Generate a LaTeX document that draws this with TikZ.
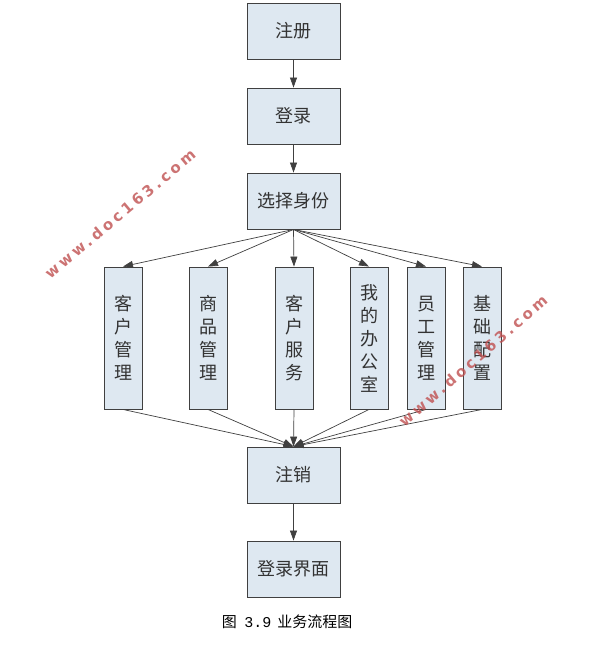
\documentclass[tikz,border=0pt]{standalone}
\usepackage{fontspec}
\setmainfont{Liberation Serif}
\newfontfamily\cjk{Noto Sans CJK SC}[BoldFont={Noto Sans CJK SC}]
\newfontfamily\wmfont{DejaVu Sans Bold}[LetterSpace=22]
\newfontfamily\capmono{Liberation Mono}
\usetikzlibrary{arrows.meta}
\definecolor{boxfill}{HTML}{DEE8F1}
\definecolor{lineclr}{HTML}{404040}
\definecolor{wmred}{HTML}{C05050}
\tikzset{
  hbox/.style={draw=lineclr, line width=0.9pt, fill=boxfill, minimum width=93pt, minimum height=56pt, inner sep=0pt, font=\cjk\fontsize{18}{20}\selectfont, text=black!80},
  vbox/.style={draw=lineclr, line width=0.9pt, fill=boxfill, minimum width=38pt, minimum height=142pt, inner sep=0pt, font=\cjk\fontsize{18}{23}\selectfont, text=black!80, align=center},
  conn/.style={draw=lineclr, line width=0.7pt, -{Triangle[length=10pt,width=7pt]}},
  wm/.style={text=wmred, opacity=0.8, font=\wmfont\fontsize{15}{15}\selectfont, inner sep=0pt}
}
\begin{document}
\begin{tikzpicture}[x=1pt,y=-1pt]
\useasboundingbox (0,0) rectangle (615,650);
\fill[white] (0,0) rectangle (615,650);
\node[hbox] (reg) at (293.5,31) {注册};
\node[hbox] (login) at (293.5,116) {登录};
\node[hbox] (role) at (293.5,201) {选择身份};
\node[vbox] (v1) at (123,338) {客\\户\\管\\理};
\node[vbox] (v2) at (208,338) {商\\品\\管\\理};
\node[vbox] (v3) at (294,338) {客\\户\\服\\务};
\node[vbox] (v4) at (369,338) {我\\的\\办\\公\\室};
\node[vbox] (v5) at (426,338) {员\\工\\管\\理};
\node[vbox] (v6) at (482,338) {基\\础\\配\\置};
\node[hbox] (logout) at (293.5,475) {注销};
\node[hbox] (ui) at (293.5,569) {登录界面};
\node[inner sep=0pt, font=\cjk\fontsize{15}{15}\selectfont] (cap) at (287,622) {图\hspace{0.5em}{\capmono 3.9}\hspace{0.4em}业务流程图};
\draw[conn] (reg) -- (login);
\draw[conn] (login) -- (role);
\foreach \v in {v1,v2,v3,v4,v5,v6}{
  \draw[conn] (role.south) -- (\v.north);
  \draw[conn] (\v.south) -- (logout.north);
}
\draw[conn] (logout) -- (ui);
\node[wm, rotate=40] (wm1) at (120,214) {www.doc163.com};
\node[wm, rotate=41] (wm2) at (473,361) {www.doc163.com};
\end{tikzpicture}
\end{document}
